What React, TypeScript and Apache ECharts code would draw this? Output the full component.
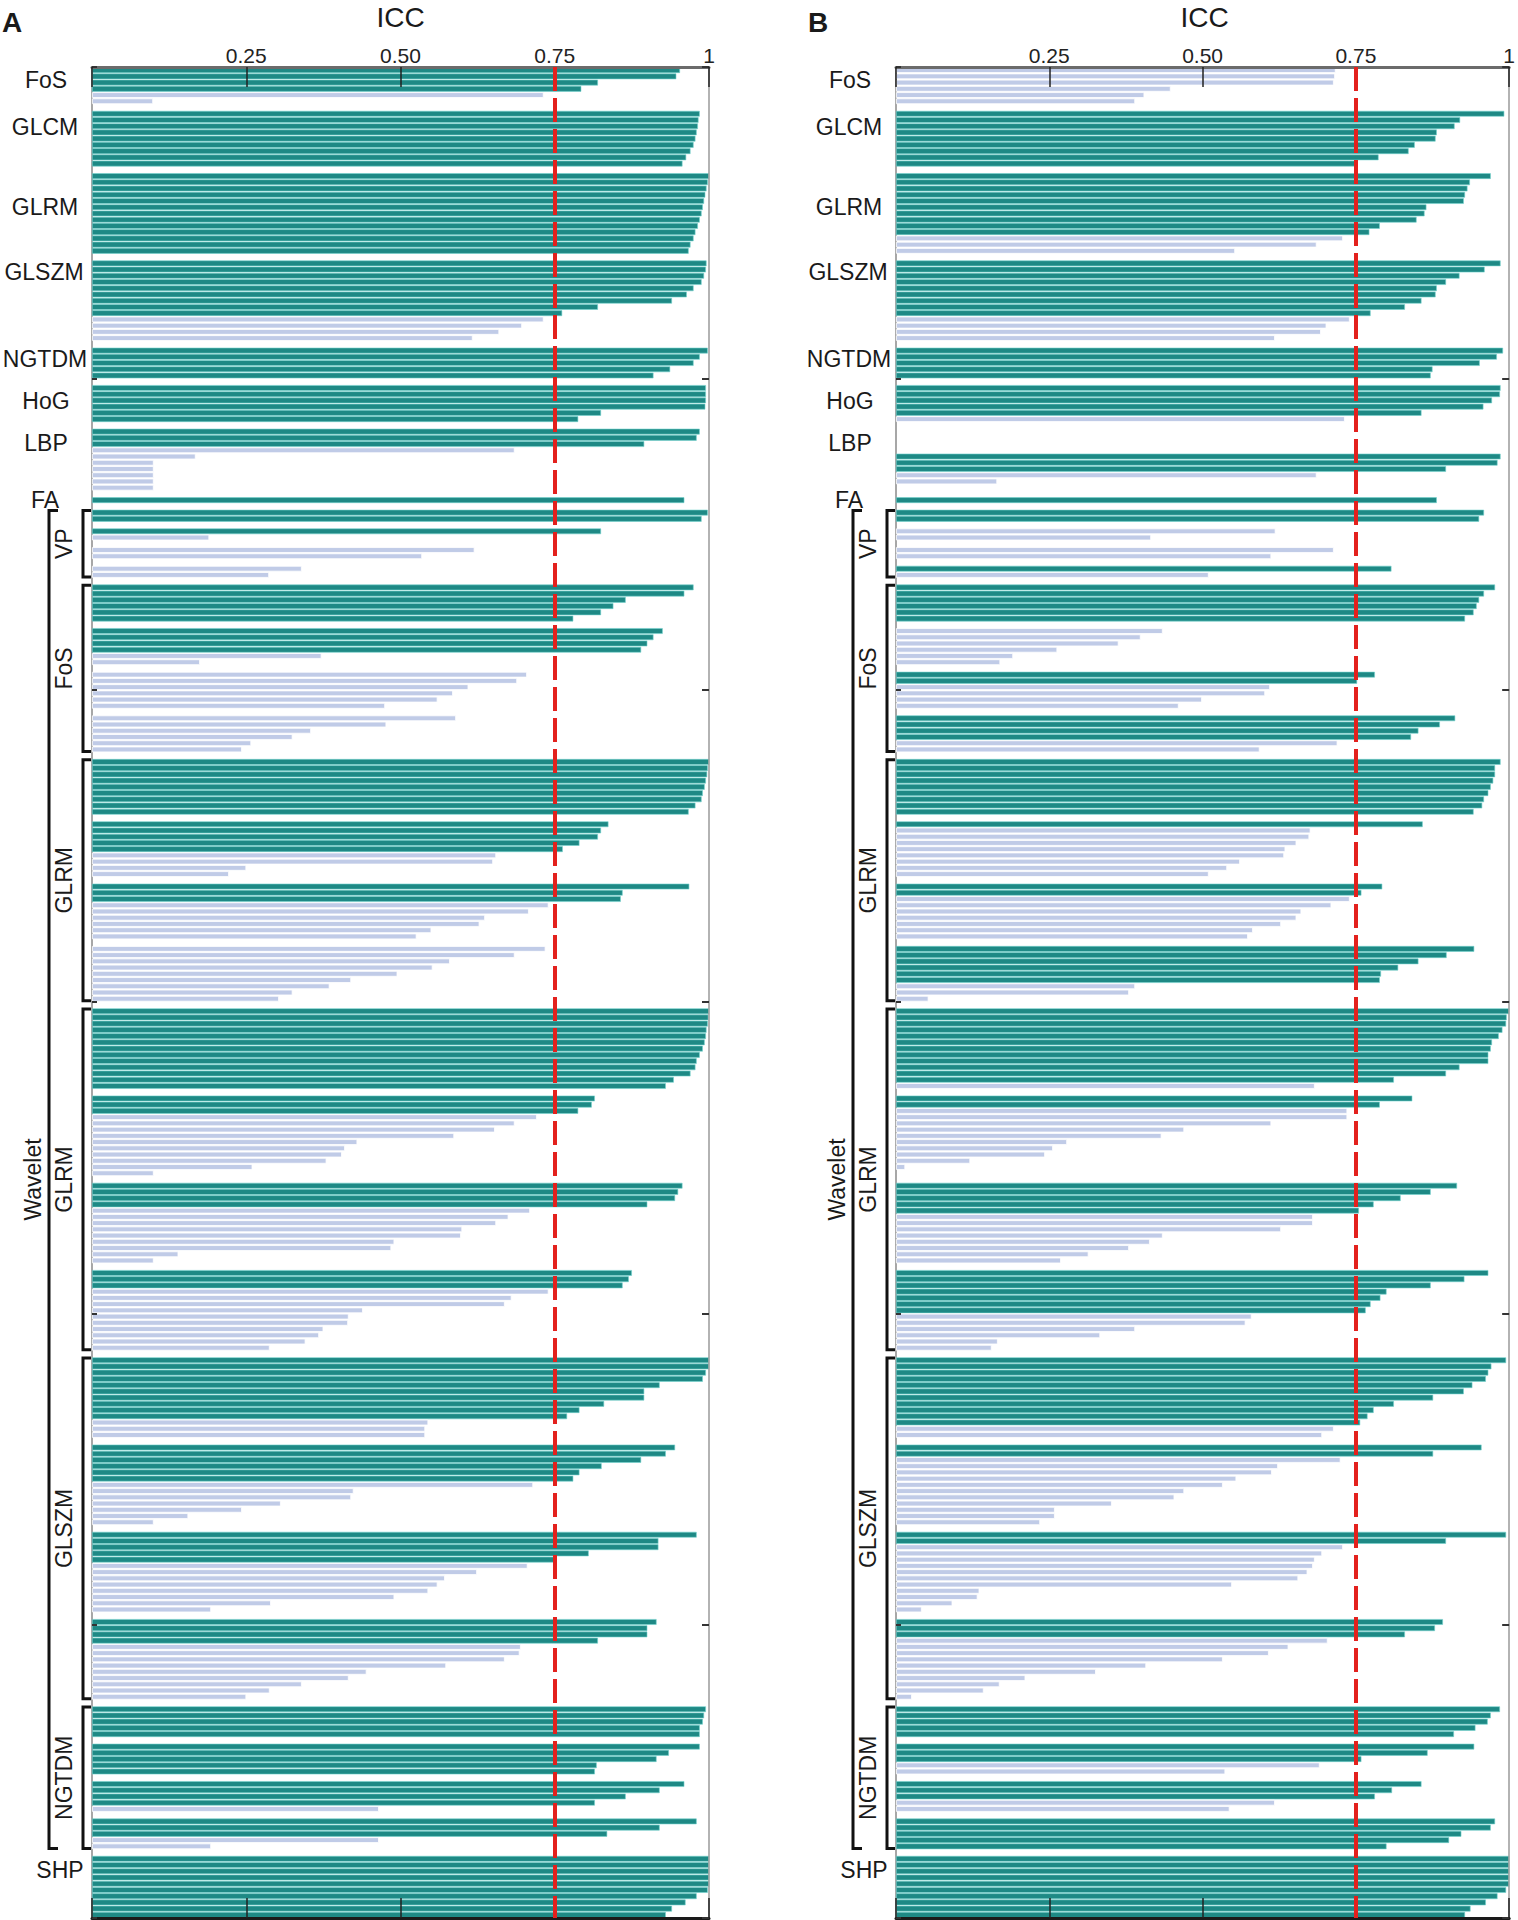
import React, { useEffect, useRef } from 'react';
import * as echarts from 'echarts';

const FONT = '"Liberation Sans", Arial, Helvetica, sans-serif';
const THRESHOLD = 0.75;
const xTickValues = [0, 0.25, 0.5, 0.75, 1];
const xTickLabels = ['', '0.25', '0.50', '0.75', '1'];

// ---------------- Panel A (ICC values, top to bottom) ----------------
const fosA = [0.953, 0.947, 0.82, 0.793, 0.732, 0.099];
const glcmA = [0.985, 0.983, 0.982, 0.98, 0.978, 0.975, 0.97, 0.963, 0.957];
const glrmA = [1.0, 0.998, 0.996, 0.994, 0.992, 0.99, 0.988, 0.985, 0.982, 0.978, 0.975, 0.97, 0.967];
const glszmA = [0.996, 0.995, 0.992, 0.988, 0.975, 0.964, 0.94, 0.82, 0.762, 0.732, 0.697, 0.66, 0.617];
const ngtdmA = [0.998, 0.985, 0.975, 0.937, 0.91];
const hogA = [0.995, 0.995, 0.995, 0.994, 0.825, 0.788];
const lbpA = [0.985, 0.98, 0.895, 0.685, 0.168, 0.1, 0.1, 0.1, 0.1, 0.1];
const faA = [0.96];
const vpA = [0.998, 0.988, null, 0.825, 0.19, null, 0.62, 0.535, null, 0.34, 0.287];
const wFosA = [
  0.975, 0.96, 0.865, 0.845, 0.825, 0.78, null,
  0.925, 0.91, 0.9, 0.89, 0.372, 0.175, null,
  0.705, 0.689, 0.61, 0.585, 0.56, 0.475, null,
  0.59, 0.477, 0.355, 0.325, 0.258, 0.243,
];
const wGlrm1A = [
  1.0, 0.998, 0.997, 0.995, 0.993, 0.99, 0.988, 0.978, 0.967, null,
  0.837, 0.825, 0.82, 0.79, 0.763, 0.655, 0.65, 0.25, 0.222, null,
  0.968, 0.86, 0.857, 0.74, 0.708, 0.637, 0.628, 0.55, 0.526, null,
  0.735, 0.685, 0.58, 0.552, 0.495, 0.42, 0.385, 0.325, 0.303,
];
const wGlrm2A = [
  1.0, 0.999, 0.998, 0.996, 0.995, 0.993, 0.99, 0.985, 0.98, 0.978, 0.97, 0.943, 0.93, null,
  0.815, 0.81, 0.788, 0.721, 0.685, 0.653, 0.587, 0.43, 0.41, 0.405, 0.38, 0.26, 0.1, null,
  0.957, 0.95, 0.945, 0.9, 0.71, 0.675, 0.655, 0.6, 0.598, 0.49, 0.485, 0.14, 0.1, null,
  0.875, 0.87, 0.86, 0.74, 0.68, 0.669, 0.439, 0.416, 0.415, 0.375, 0.368, 0.346, 0.288,
];
const wGlszmA = [
  1.0, 1.0, 0.995, 0.99, 0.92, 0.895, 0.895, 0.83, 0.79, 0.77, 0.545, 0.54, 0.54, null,
  0.945, 0.93, 0.89, 0.826, 0.79, 0.78, 0.715, 0.424, 0.42, 0.306, 0.243, 0.156, 0.1, null,
  0.98, 0.918, 0.918, 0.805, 0.751, 0.706, 0.624, 0.572, 0.56, 0.545, 0.49, 0.29, 0.193, null,
  0.915, 0.9, 0.9, 0.82, 0.695, 0.693, 0.669, 0.574, 0.445, 0.416, 0.34, 0.288, 0.25,
];
const wNgtdmA = [
  0.995, 0.992, 0.99, 0.985, 0.985, null,
  0.985, 0.935, 0.915, 0.818, 0.815, null,
  0.96, 0.92, 0.865, 0.815, 0.465, null,
  0.98, 0.92, 0.835, 0.465, 0.193,
];
const shpA = [1.0, 1.0, 1.0, 1.0, 1.0, 0.998, 0.98, 0.962, 0.94, 0.93];

// ---------------- Panel B ----------------
const fosB = [0.717, 0.716, 0.714, 0.448, 0.405, 0.39];
const glcmB = [0.992, 0.92, 0.911, 0.882, 0.88, 0.846, 0.836, 0.787, 0.752];
const glrmB = [0.97, 0.936, 0.932, 0.928, 0.926, 0.865, 0.862, 0.849, 0.789, 0.772, 0.729, 0.686, 0.553];
const glszmB = [0.986, 0.96, 0.919, 0.897, 0.882, 0.88, 0.857, 0.83, 0.774, 0.74, 0.702, 0.693, 0.618];
const ngtdmB = [0.99, 0.98, 0.952, 0.875, 0.872];
const hogB = [0.986, 0.985, 0.972, 0.958, 0.857, 0.732];
const lbpB = [null, null, null, null, 0.986, 0.981, 0.897, 0.686, 0.165, null];
const faB = [0.882];
const vpB = [0.959, 0.951, null, 0.619, 0.416, null, 0.714, 0.612, null, 0.808, 0.51];
const wFosB = [
  0.977, 0.959, 0.951, 0.947, 0.942, 0.928, null,
  0.435, 0.399, 0.363, 0.263, 0.191, 0.17, null,
  0.781, 0.752, 0.61, 0.602, 0.499, 0.461, null,
  0.912, 0.887, 0.852, 0.84, 0.72, 0.593,
];
const wGlrm1B = [
  0.986, 0.977, 0.977, 0.974, 0.97, 0.966, 0.959, 0.956, 0.942, null,
  0.859, 0.676, 0.674, 0.653, 0.635, 0.633, 0.561, 0.54, 0.51, null,
  0.793, 0.759, 0.74, 0.71, 0.661, 0.653, 0.628, 0.582, 0.574, null,
  0.943, 0.898, 0.852, 0.819, 0.791, 0.789, 0.39, 0.38, 0.053,
];
const wGlrm2B = [
  1.0, 0.996, 0.995, 0.989, 0.983, 0.972, 0.97, 0.966, 0.966, 0.919, 0.897, 0.812, 0.683, null,
  0.842, 0.789, 0.736, 0.736, 0.612, 0.47, 0.433, 0.279, 0.256, 0.243, 0.121, 0.015, null, null,
  0.915, 0.872, 0.823, 0.779, 0.755, 0.68, 0.68, 0.628, 0.435, 0.414, 0.38, 0.314, 0.269, null,
  0.966, 0.927, 0.872, 0.8, 0.79, 0.774, 0.766, 0.58, 0.57, 0.39, 0.333, 0.166, 0.156,
];
const wGlszmB = [
  0.995, 0.971, 0.966, 0.962, 0.94, 0.926, 0.876, 0.812, 0.779, 0.769, 0.757, 0.714, 0.695, null,
  0.955, 0.876, 0.725, 0.623, 0.613, 0.555, 0.533, 0.47, 0.454, 0.352, 0.259, 0.259, 0.235, null,
  0.995, 0.897, 0.729, 0.695, 0.683, 0.68, 0.671, 0.656, 0.548, 0.136, 0.133, 0.092, 0.042, null,
  0.892, 0.879, 0.83, 0.704, 0.64, 0.608, 0.533, 0.408, 0.326, 0.211, 0.169, 0.143, 0.026,
];
const wNgtdmB = [
  0.985, 0.97, 0.965, 0.945, 0.91, null,
  0.943, 0.867, 0.759, 0.691, 0.537, null,
  0.857, 0.809, 0.781, 0.618, 0.544, null,
  0.977, 0.97, 0.922, 0.902, 0.8,
];
const shpB = [1.0, 1.0, 1.0, 1.0, 1.0, 0.995, 0.981, 0.962, 0.937, 0.928];

const groupsA = [fosA, glcmA, glrmA, glszmA, ngtdmA, hogA, lbpA, faA, vpA, wFosA, wGlrm1A, wGlrm2A, wGlszmA, wNgtdmA, shpA];
const groupsB = [fosB, glcmB, glrmB, glszmB, ngtdmB, hogB, lbpB, faB, vpB, wFosB, wGlrm1B, wGlrm2B, wGlszmB, wNgtdmB, shpB];

// plain group labels (left of each panel)
const plainLabels = ['FoS', 'GLCM', 'GLRM', 'GLSZM', 'NGTDM', 'HoG', 'LBP', 'FA', 'SHP'];
const plainLabelX = [46, 45, 45, 44, 45, 46, 46, 45, 60];
const plainLabelY = [80, 127, 207, 272, 359, 401, 443, 500, 1870];
// wavelet sub-groups: indices into the group list and their labels
const waveletGroupIdx = [8, 9, 10, 11, 12, 13];
const waveletLabels = ['VP', 'FoS', 'GLRM', 'GLRM', 'GLSZM', 'NGTDM'];

// layout
const PLOT_TOP = 67;
const PLOT_H = 1851;
const PLOT_W = 617;
const PANEL_LEFT = [92, 896];
const PANEL_SHIFT = [0, 804];
const TEAL = '#1e8985';
const TEAL_EDGE = '#74d3cf';
const LIGHT = '#c0cbe7';
const RED = '#e3211d';

function buildRows(groups: (number | null)[][]) {
  const rows: (number | null)[] = [];
  const starts: number[] = [];
  groups.forEach((g, i) => {
    if (i > 0) rows.push(null);
    starts.push(rows.length);
    rows.push(...g);
  });
  return { rows, starts };
}

function barData(rows: (number | null)[]) {
  return rows.map((v) =>
    v == null
      ? null
      : {
          value: v,
          itemStyle:
            v >= THRESHOLD
              ? { color: TEAL, borderColor: TEAL_EDGE, borderWidth: 0.6 }
              : { color: LIGHT, borderColor: '#ffffff', borderWidth: 0.8 },
        }
  );
}

function buildOption() {
  const A = buildRows(groupsA);
  const B = buildRows(groupsB);
  const rowCount = A.rows.length;
  const pitch = PLOT_H / rowCount;
  const cats = A.rows.map((_, i) => String(i));
  const rowY = (r: number) => PLOT_TOP + r * pitch;

  const grid: any[] = [];
  const xAxis: any[] = [];
  const yAxis: any[] = [];
  const series: any[] = [];
  const graphic: any[] = [];

  [A, B].forEach((P, p) => {
    grid.push({ left: PANEL_LEFT[p], top: PLOT_TOP, width: PLOT_W, height: PLOT_H, containLabel: false });
    xAxis.push({
      type: 'value', gridIndex: p, position: 'top', min: 0, max: 1, interval: 0.25, z: 5,
      axisLine: { show: true, onZero: false, lineStyle: { color: '#6b6b6b', width: 3 } },
      axisTick: { show: true, inside: true, length: 20, lineStyle: { color: '#222', width: 1.5 } },
      axisLabel: {
        show: true, margin: 1, fontSize: 21, color: '#222', fontFamily: FONT, showMaxLabel: true,
        formatter: (v: number) => {
          const k = xTickValues.findIndex((t) => Math.abs(t - v) < 1e-6);
          return k >= 0 ? xTickLabels[k] : '';
        },
      },
      splitLine: { show: false },
    });
    xAxis.push({
      type: 'value', gridIndex: p, position: 'bottom', min: 0, max: 1, interval: 0.25, z: 5,
      axisLine: { show: true, onZero: false, lineStyle: { color: '#1a1a1a', width: 3 } },
      axisTick: { show: true, inside: true, length: 20, lineStyle: { color: '#222', width: 1.5 } },
      axisLabel: { show: false },
      splitLine: { show: false },
    });
    yAxis.push({
      type: 'category', gridIndex: p, inverse: true, data: cats, position: 'left',
      axisLine: { show: true, lineStyle: { color: '#8a8a8a', width: 1.5 } },
      axisTick: { show: false }, axisLabel: { show: false }, splitLine: { show: false },
    });
    yAxis.push({
      type: 'value', gridIndex: p, inverse: true, min: 0, max: rowCount, interval: 50, position: 'right', z: 5,
      axisLine: { show: true, onZero: false, lineStyle: { color: '#9a9a9a', width: 1.5 } },
      axisTick: { show: true, inside: true, length: 7, lineStyle: { color: '#333', width: 2 } },
      axisLabel: { show: false }, splitLine: { show: false },
    });
    yAxis.push({
      type: 'value', gridIndex: p, inverse: true, min: 0, max: rowCount, interval: 50, position: 'left', z: 5,
      axisLine: { show: false },
      axisTick: { show: true, inside: true, length: 5, lineStyle: { color: '#333', width: 2 } },
      axisLabel: { show: false }, splitLine: { show: false },
    });
    series.push({
      type: 'bar', name: p === 0 ? 'A' : 'B', xAxisIndex: p * 2, yAxisIndex: p * 3,
      data: barData(P.rows), barCategoryGap: '8%', silent: true,
      markLine: {
        silent: true, symbol: 'none', z: 10,
        label: { show: false },
        lineStyle: { color: RED, width: 4, type: [24, 7], opacity: 1 },
        data: [{ xAxis: THRESHOLD }],
      },
    });

    const dx = PANEL_SHIFT[p];
    const textStyle = (txt: string, size: number, weight = 'normal') => ({
      text: txt, fill: '#1a1a1a', fontSize: size, fontFamily: FONT, fontWeight: weight,
      textAlign: 'center', textVerticalAlign: 'middle', align: 'center', verticalAlign: 'middle',
    });
    // panel letter and title
    graphic.push({ type: 'text', x: 12 + (p === 0 ? 0 : 806), y: 22, style: textStyle(p === 0 ? 'A' : 'B', 28, 'bold') });
    graphic.push({ type: 'text', x: PANEL_LEFT[p] + PLOT_W / 2, y: 17, style: textStyle('ICC', 28) });
    // plain labels
    plainLabels.forEach((t, i) => {
      graphic.push({ type: 'text', x: plainLabelX[i] + dx, y: plainLabelY[i], style: textStyle(t, 23) });
    });
    // wavelet brackets
    waveletGroupIdx.forEach((gi, k) => {
      const top = rowY(P.starts[gi]);
      const bot = rowY(P.starts[gi] + groupsA[gi].length);
      graphic.push({
        type: 'polyline',
        shape: { points: [[91 + dx, top + 1], [83 + dx, top + 1], [83 + dx, bot - 1], [91 + dx, bot - 1]] },
        style: { stroke: '#111', lineWidth: 3, fill: null },
      });
      graphic.push({
        type: 'text', x: 64 + dx, y: (top + bot) / 2, rotation: Math.PI / 2,
        style: textStyle(waveletLabels[k], 23),
      });
    });
    const wTop = rowY(P.starts[waveletGroupIdx[0]]);
    const lastW = waveletGroupIdx[waveletGroupIdx.length - 1];
    const wBot = rowY(P.starts[lastW] + groupsA[lastW].length);
    graphic.push({
      type: 'polyline',
      shape: { points: [[58 + dx, wTop + 1], [49 + dx, wTop + 1], [49 + dx, wBot - 1], [58 + dx, wBot - 1]] },
      style: { stroke: '#111', lineWidth: 3, fill: null },
    });
    graphic.push({
      type: 'text', x: 33 + dx, y: (wTop + wBot) / 2, rotation: Math.PI / 2,
      style: textStyle('Wavelet', 23),
    });
  });

  return {
    animation: false,
    backgroundColor: '#ffffff',
    textStyle: { fontFamily: FONT },
    grid, xAxis, yAxis, series, graphic,
  };
}

export default function App() {
  const ref = useRef<HTMLDivElement>(null);
  useEffect(() => {
    document.body.style.margin = '0';
    const chart = echarts.init(ref.current as HTMLDivElement, null, { renderer: 'svg' });
    chart.setOption(buildOption() as any);
    return () => chart.dispose();
  }, []);
  return <div ref={ref} style={{ width: 1518, height: 1920, background: '#fff' }} />;
}
